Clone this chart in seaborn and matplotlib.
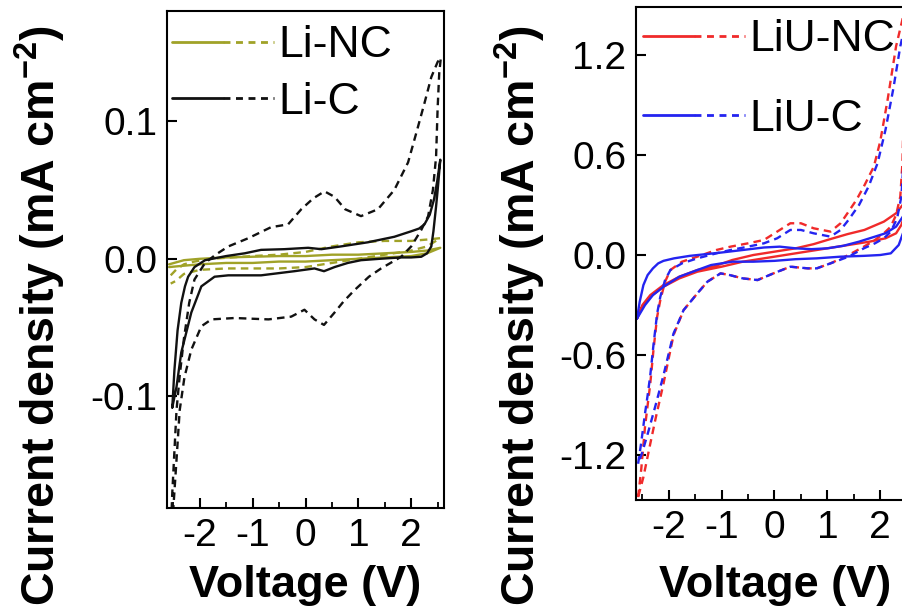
import matplotlib
matplotlib.use("Agg")
import pandas as pd
import matplotlib.pyplot as plt
import seaborn as sns
from matplotlib.lines import Line2D
from matplotlib.legend_handler import HandlerTuple
from matplotlib.ticker import MultipleLocator

# ============================================
# DATA
# ============================================

# --- left panel: Li-C, dashed loop ---
lic_dash_fwd_v = [-2.56, -2.52, -2.48, -2.44, -2.38, -2.30, -2.20, -2.10, -1.90, -1.70, -1.46, -1.08,
                  -0.65, -0.33, -0.08, 0.15, 0.36, 0.55, 0.75, 1.05, 1.37, 1.68, 1.94, 2.10, 2.25,
                  2.38, 2.50, 2.56]
lic_dash_fwd_i = [-0.21, -0.17, -0.14, -0.11, -0.085, -0.058, -0.032, -0.015, -0.003, 0.003, 0.009,
                  0.015, 0.023, 0.025, 0.036, 0.044, 0.049, 0.045, 0.036, 0.031, 0.036, 0.050, 0.070,
                  0.092, 0.113, 0.132, 0.143, 0.146]
lic_dash_rev_v = [2.56, 2.53, 2.50, 2.47, 2.41, 2.32, 2.19, 2.00, 1.81, 1.43, 1.20, 0.92, 0.72, 0.55,
                  0.35, 0.17, -0.02, -0.27, -0.70, -1.34, -1.78, -1.97, -2.16, -2.29, -2.38, -2.44,
                  -2.50, -2.56]
lic_dash_rev_i = [0.146, 0.135, 0.110, 0.074, 0.050, 0.031, 0.021, 0.009, 0.0015, -0.007, -0.013,
                  -0.023, -0.031, -0.039, -0.048, -0.044, -0.037, -0.042, -0.044, -0.043, -0.044,
                  -0.049, -0.066, -0.086, -0.110, -0.146, -0.181, -0.21]

# --- left panel: Li-C, solid loop ---
lic_sol_fwd_v = [-2.52, -2.48, -2.42, -2.35, -2.28, -2.22, -2.10, -1.90, -1.50, -1.15, -0.84, -0.40,
                 0.05, 0.30, 0.67, 1.18, 1.68, 2.00, 2.15, 2.25, 2.35, 2.43, 2.49, 2.55]
lic_sol_fwd_i = [-0.108, -0.081, -0.052, -0.032, -0.020, -0.013, -0.006, -0.001, 0.002, 0.004,
                 0.0065, 0.007, 0.008, 0.007, 0.009, 0.012, 0.016, 0.020, 0.022, 0.025, 0.032, 0.043,
                 0.056, 0.072]
lic_sol_rev_v = [2.55, 2.50, 2.47, 2.42, 2.38, 2.30, 2.19, 2.00, 1.80, 1.40, 1.05, 0.80, 0.55, 0.35,
                 0.17, -0.21, -0.84, -1.46, -1.72, -1.97, -2.16, -2.35, -2.44, -2.52]
lic_sol_rev_i = [0.072, 0.050, 0.038, 0.020, 0.009, 0.004, 0.0015, 0.001, 0.001, 0.0, -0.001,
                 -0.003, -0.006, -0.009, -0.007, -0.009, -0.012, -0.012, -0.013, -0.020, -0.039,
                 -0.068, -0.093, -0.108]

# --- left panel: Li-NC, solid loop ---
linc_sol_fwd_v = [-2.58, -2.30, -2.00, -1.50, -1.00, -0.50, 0.00, 0.50, 1.00, 1.50, 2.00, 2.30, 2.55]
linc_sol_fwd_i = [-0.004, -0.001, 0.0, 0.001, 0.0015, 0.002, 0.002, 0.003, 0.003, 0.004, 0.005,
                  0.006, 0.008]
linc_sol_rev_v = [2.55, 2.30, 2.00, 1.50, 1.00, 0.50, 0.00, -0.50, -1.00, -1.50, -2.00, -2.30, -2.58]
linc_sol_rev_i = [0.008, 0.004, 0.002, 0.001, 0.0, -0.001, -0.002, -0.002, -0.003, -0.003, -0.004,
                  -0.005, -0.006]

# --- left panel: Li-NC, dashed loop ---
linc_dash_fwd_v = [-2.55, -2.45, -2.30, -2.10, -1.80, -1.40, -1.00, -0.50, 0.00, 0.50, 1.00, 1.50,
                   2.00, 2.30, 2.55]
linc_dash_fwd_i = [-0.012, -0.008, -0.004, -0.002, 0.0, 0.001, 0.002, 0.003, 0.005, 0.009, 0.012,
                   0.013, 0.013, 0.014, 0.015]
linc_dash_rev_v = [2.55, 2.30, 2.00, 1.50, 1.00, 0.50, 0.00, -0.50, -1.00, -1.50, -2.00, -2.30,
                   -2.45, -2.55]
linc_dash_rev_i = [0.015, 0.009, 0.006, 0.003, 0.0, -0.003, -0.006, -0.007, -0.007, -0.007, -0.008,
                   -0.011, -0.016, -0.018]

# --- right panel: LiU-NC, dashed loop ---
liunc_dash_fwd_v = [-2.58, -2.52, -2.45, -2.40, -2.35, -2.29, -2.22, -2.16, -2.07, -1.97, -1.75,
                    -1.46, -1.10, -0.83, -0.50, -0.20, 0.05, 0.30, 0.50, 0.74, 1.06, 1.25, 1.38,
                    1.55, 1.69, 1.88, 2.00, 2.14, 2.30, 2.45, 2.58]
liunc_dash_fwd_i = [-1.45, -1.28, -1.03, -0.90, -0.77, -0.57, -0.37, -0.27, -0.16, -0.09, -0.04,
                    -0.01, 0.03, 0.05, 0.07, 0.09, 0.14, 0.19, 0.19, 0.16, 0.14, 0.19, 0.25, 0.33,
                    0.41, 0.53, 0.68, 0.93, 1.25, 1.45, 1.55]
liunc_dash_rev_v = [2.58, 2.50, 2.46, 2.44, 2.42, 2.38, 2.30, 2.20, 2.07, 1.90, 1.69, 1.40, 1.06,
                    0.80, 0.63, 0.30, -0.02, -0.32, -0.60, -0.85, -1.02, -1.27, -1.46, -1.72, -1.91,
                    -2.10, -2.25, -2.35, -2.48, -2.58]
liunc_dash_rev_i = [1.55, 1.35, 1.05, 0.80, 0.55, 0.35, 0.24, 0.17, 0.13, 0.09, 0.05, 0.0, -0.05,
                    -0.08, -0.08, -0.07, -0.11, -0.15, -0.14, -0.12, -0.11, -0.16, -0.23, -0.33,
                    -0.48, -0.77, -0.98, -1.13, -1.33, -1.45]

# --- right panel: LiU-C, dashed loop ---
liuc_dash_fwd_v = [-2.58, -2.52, -2.45, -2.40, -2.35, -2.29, -2.22, -2.16, -2.07, -1.97, -1.75,
                   -1.46, -1.10, -0.83, -0.50, -0.20, 0.05, 0.30, 0.50, 0.74, 1.06, 1.25, 1.40,
                   1.60, 1.78, 1.95, 2.10, 2.25, 2.38, 2.50, 2.58]
liuc_dash_fwd_i = [-1.25, -1.12, -0.95, -0.84, -0.72, -0.54, -0.35, -0.25, -0.15, -0.09, -0.05,
                   -0.02, 0.01, 0.03, 0.05, 0.07, 0.10, 0.15, 0.15, 0.13, 0.11, 0.15, 0.21, 0.30,
                   0.41, 0.55, 0.75, 1.00, 1.25, 1.42, 1.50]
liuc_dash_rev_v = [2.58, 2.52, 2.48, 2.46, 2.44, 2.40, 2.32, 2.20, 2.07, 1.90, 1.69, 1.40, 1.06,
                   0.80, 0.63, 0.30, -0.02, -0.32, -0.60, -0.85, -1.02, -1.27, -1.46, -1.72, -1.91,
                   -2.10, -2.25, -2.38, -2.50, -2.58]
liuc_dash_rev_i = [1.50, 1.30, 1.05, 0.80, 0.55, 0.35, 0.22, 0.14, 0.10, 0.07, 0.04, -0.01, -0.05,
                   -0.08, -0.08, -0.07, -0.11, -0.15, -0.14, -0.12, -0.11, -0.16, -0.23, -0.33,
                   -0.47, -0.72, -0.90, -1.05, -1.18, -1.25]

# --- right panel: LiU-NC, solid loop ---
liunc_sol_fwd_v = [-2.60, -2.50, -2.35, -2.10, -1.80, -1.46, -1.16, -0.80, -0.40, 0.00, 0.40, 0.74,
                   1.00, 1.38, 1.70, 2.07, 2.30, 2.45, 2.60]
liunc_sol_fwd_i = [-0.38, -0.30, -0.24, -0.18, -0.13, -0.09, -0.07, -0.03, 0.0, 0.02, 0.04, 0.065,
                   0.09, 0.125, 0.15, 0.20, 0.25, 0.31, 0.40]
liunc_sol_rev_v = [2.60, 2.50, 2.40, 2.30, 2.10, 1.80, 1.40, 1.00, 0.60, 0.20, -0.20, -0.60, -1.00,
                   -1.46, -1.80, -2.10, -2.35, -2.50, -2.60]
liunc_sol_rev_i = [0.40, 0.28, 0.18, 0.13, 0.10, 0.08, 0.06, 0.04, 0.02, 0.0, -0.02, -0.04, -0.07,
                   -0.10, -0.14, -0.19, -0.25, -0.31, -0.38]

# --- right panel: LiU-C, solid loop ---
liuc_sol_fwd_v = [-2.60, -2.55, -2.48, -2.40, -2.30, -2.20, -2.10, -1.90, -1.60, -1.30, -1.00, -0.60,
                  -0.20, 0.10, 0.40, 0.70, 1.00, 1.30, 1.60, 1.90, 2.10, 2.30, 2.45, 2.60]
liuc_sol_fwd_i = [-0.38, -0.28, -0.18, -0.12, -0.08, -0.05, -0.035, -0.02, -0.005, 0.005, 0.015,
                  0.03, 0.045, 0.05, 0.04, 0.035, 0.04, 0.055, 0.08, 0.11, 0.13, 0.17, 0.24, 0.34]
liuc_sol_rev_v = [2.60, 2.50, 2.43, 2.35, 2.20, 2.00, 1.70, 1.25, 0.80, 0.40, 0.00, -0.40, -0.80,
                  -1.20, -1.46, -1.80, -2.10, -2.30, -2.45, -2.60]
liuc_sol_rev_i = [0.34, 0.22, 0.13, 0.06, 0.01, 0.0, -0.005, -0.01, -0.02, -0.025, -0.035, -0.04,
                  -0.04, -0.06, -0.09, -0.13, -0.19, -0.24, -0.30, -0.38]

x_ticks = [-2, -1, 0, 1, 2]
left_y_ticks = [-0.1, 0.0, 0.1]
right_y_ticks = [-1.2, -0.6, 0.0, 0.6, 1.2]

# ============================================
# BUILD TABLES
# ============================================

def loop(v_fwd, i_fwd, v_rev, i_rev, sample, scan):
    v = list(v_fwd) + list(v_rev)
    i = list(i_fwd) + list(i_rev)
    return pd.DataFrame({"V": v, "I": i, "sample": sample, "scan": scan})

left_df = pd.concat([
    loop(linc_sol_fwd_v, linc_sol_fwd_i, linc_sol_rev_v, linc_sol_rev_i, "Li-NC", "solid"),
    loop(linc_dash_fwd_v, linc_dash_fwd_i, linc_dash_rev_v, linc_dash_rev_i, "Li-NC", "dashed"),
    loop(lic_sol_fwd_v, lic_sol_fwd_i, lic_sol_rev_v, lic_sol_rev_i, "Li-C", "solid"),
    loop(lic_dash_fwd_v, lic_dash_fwd_i, lic_dash_rev_v, lic_dash_rev_i, "Li-C", "dashed"),
], ignore_index=True)

right_df = pd.concat([
    loop(liunc_sol_fwd_v, liunc_sol_fwd_i, liunc_sol_rev_v, liunc_sol_rev_i, "LiU-NC", "solid"),
    loop(liunc_dash_fwd_v, liunc_dash_fwd_i, liunc_dash_rev_v, liunc_dash_rev_i, "LiU-NC", "dashed"),
    loop(liuc_sol_fwd_v, liuc_sol_fwd_i, liuc_sol_rev_v, liuc_sol_rev_i, "LiU-C", "solid"),
    loop(liuc_dash_fwd_v, liuc_dash_fwd_i, liuc_dash_rev_v, liuc_dash_rev_i, "LiU-C", "dashed"),
], ignore_index=True)

left_colors = {"Li-NC": "#a0a228", "Li-C": "#111111"}
right_colors = {"LiU-NC": "#f02a2a", "LiU-C": "#2424f0"}
dash_styles = {"solid": "", "dashed": (3.2, 2.2)}

# ============================================
# PLOT
# ============================================

sns.set_style("ticks")
plt.rcParams["font.family"] = ["Liberation Sans", "DejaVu Sans"]
plt.rcParams["mathtext.fontset"] = "custom"
plt.rcParams["mathtext.rm"] = "Liberation Sans:bold"
plt.rcParams["mathtext.bf"] = "Liberation Sans:bold"
plt.rcParams["mathtext.default"] = "bf"
plt.rcParams["axes.unicode_minus"] = False
plt.rcParams["text.color"] = "black"

TICK_FS = 28
LABEL_FS = 32.5
YLABEL_FS = 33.5
LEG_FS = 32

fig = plt.figure(figsize=(9.03, 6.13), dpi=100)
ax1 = fig.add_axes([167 / 903, 1 - 508 / 613, 277 / 903, 497 / 613])
ax2 = fig.add_axes([636 / 903, 1 - 500 / 613, 277 / 903, 493 / 613])

sns.lineplot(data=left_df, x="V", y="I", hue="sample", style="scan", sort=False,
             estimator=None, palette=left_colors, dashes=dash_styles, linewidth=1.7,
             legend=False, ax=ax1)
sns.lineplot(data=right_df, x="V", y="I", hue="sample", style="scan", sort=False,
             estimator=None, palette=right_colors, dashes=dash_styles, linewidth=1.7,
             legend=False, ax=ax2)

ax1.set_xlim(-2.62, 2.62)
ax1.set_ylim(-0.181, 0.180)
ax2.set_xlim(-2.62, 2.62)
ax2.set_ylim(-1.467, 1.485)

ax1.set_yticks(left_y_ticks)
ax1.set_yticklabels(["-0.1", "0.0", "0.1"])
ax2.set_yticks(right_y_ticks)
ax2.set_yticklabels(["-1.2", "-0.6", "0.0", "0.6", "1.2"])

for ax in (ax1, ax2):
    ax.set_xticks(x_ticks)
    ax.set_xticklabels([str(t) for t in x_ticks])
    ax.xaxis.set_minor_locator(MultipleLocator(0.5))
    ax.set_xlabel("")
    ax.set_ylabel("")
    for s in ax.spines.values():
        s.set_linewidth(1.5)
        s.set_color("black")
    ax.tick_params(axis="both", which="major", direction="in", length=7, width=1.5,
                   labelsize=TICK_FS, pad=7, colors="black")
    ax.tick_params(axis="x", which="minor", direction="in", length=4.5, width=1.3,
                   colors="black")
    ax.tick_params(top=False, right=False, which="both")

# legends: solid half + dashed half
def handles(colors):
    out = []
    for c in colors:
        solid = Line2D([], [], color=c, lw=2.0)
        dashed = Line2D([], [], color=c, lw=2.0, dashes=(2.5, 2.0))
        out.append((solid, dashed))
    return out

ax1.legend(handles(left_colors.values()), list(left_colors.keys()),
           handler_map={tuple: HandlerTuple(ndivide=None, pad=0.0)},
           loc="upper left", bbox_to_anchor=(0.018, 0.971), frameon=False, fontsize=LEG_FS,
           handlelength=2.3, handletextpad=0.1, borderaxespad=0, borderpad=0, labelspacing=0.34)
ax2.legend(handles(right_colors.values()), list(right_colors.keys()),
           handler_map={tuple: HandlerTuple(ndivide=None, pad=0.0)},
           loc="upper left", bbox_to_anchor=(0.025, 0.975), frameon=False, fontsize=LEG_FS,
           handlelength=2.3, handletextpad=0.1, borderaxespad=0, borderpad=0, labelspacing=0.86)

# axis titles
ylab = r"Current density (mA cm$^{-2}$)"
fig.text(40 / 903, 1 - 315 / 613, ylab, rotation=90, ha="center", va="center",
         fontsize=YLABEL_FS, fontweight="bold")
fig.text(520 / 903, 1 - 315 / 613, ylab, rotation=90, ha="center", va="center",
         fontsize=YLABEL_FS, fontweight="bold")
fig.text(305 / 903, 1 - 597 / 613, "Voltage (V)", ha="center", va="baseline",
         fontsize=LABEL_FS, fontweight="bold")
fig.text(775 / 903, 1 - 597 / 613, "Voltage (V)", ha="center", va="baseline",
         fontsize=LABEL_FS, fontweight="bold")

fig.savefig("out.png", dpi=100)
